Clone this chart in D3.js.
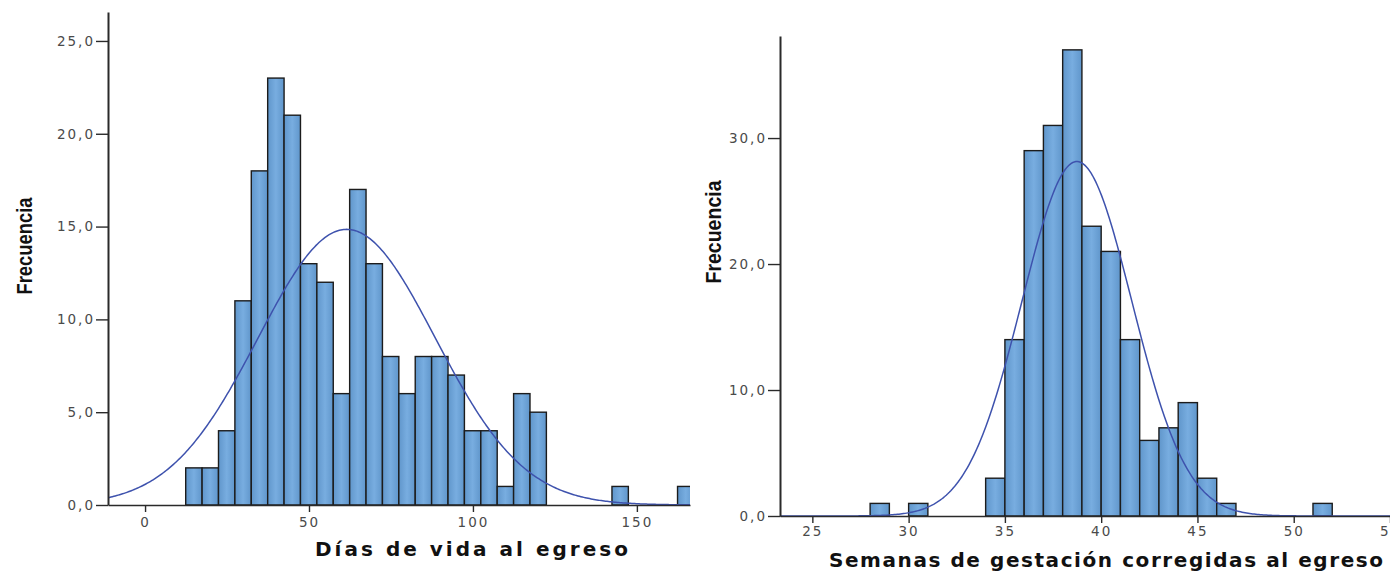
<!DOCTYPE html>
<html>
<head>
<meta charset="utf-8">
<script src="https://cdn.jsdelivr.net/npm/d3@7"></script>
<style>
  html, body { margin: 0; padding: 0; background: #fff; }
  svg { display: block; }
  .hist__axis text { font-family: "DejaVu Sans", Verdana, sans-serif; font-size: 13.5px; fill: #4a4a4a; letter-spacing: 2px; }
  .hist__axis path, .hist__axis line { stroke: #2a2a2a; }
  .hist__axis--y path { stroke-width: 2px; }
  .hist__axis--x path { stroke-width: 1.6px; }
  .hist__axis line { stroke-width: 1.4px; }
  .hist__bar { stroke: #1c1c1c; stroke-width: 1.4px; }
  .hist__curve { fill: none; stroke: #3e52ad; stroke-width: 1.5px; }
  .hist__title { font-family: "DejaVu Sans", Verdana, sans-serif; font-weight: bold; font-size: 20px; fill: #111; }
  .hist__ylabel { font-family: "Liberation Sans Narrow", "Arial Narrow", "Liberation Sans", sans-serif; font-weight: bold; font-size: 22px; fill: #111; }
</style>
</head>
<body>
<div id="chart"></div>
<script>
// Días de vida al egreso: bins of 5 days starting at 12.4
const diasBinStart = 12.4;
const diasBinWidth = 5;
const diasCounts = [2, 2, 4, 11, 18, 23, 21, 13, 12, 6, 17, 13, 8, 6, 8, 8, 7, 4, 4, 1, 6, 5, 0, 0, 0, 0, 1, 0, 0, 0, 1];
const diasMean = 61.5;
const diasSd = 27;
const diasYTicks = [0, 5, 10, 15, 20, 25];
const diasXTicks = [0, 50, 100, 150];

// Semanas de gestación corregidas al egreso: bins of 1 week starting at 28
const semBinStart = 28;
const semBinWidth = 1;
const semCounts = [1, 0, 1, 0, 0, 0, 3, 14, 29, 31, 37, 23, 21, 14, 6, 7, 9, 3, 1, 0, 0, 0, 0, 1];
const semMean = 38.74;
const semSd = 2.85;
const semYTicks = [0, 10, 20, 30];
const semXTicks = [25, 30, 35, 40, 45, 50, 55];

const fmtComma = d => d3.format('.1f')(d).replace('.', ',');

class Histogram {
  constructor(svg, options) {
    this.svg = svg;
    Object.assign(this, options);
    this.init();
  }

  init() {
    const { svg, left, right, top, bottom, xDomain, yDomain, id } = this;

    this.x = d3.scaleLinear().domain(xDomain).range([left, right]);
    this.y = d3.scaleLinear().domain(yDomain).range([bottom, top]);

    this.g = svg.append('g').attr('class', `hist hist--${id}`);

    svg.select('defs').append('clipPath')
      .attr('id', `clip-${id}`)
      .append('rect')
      .attr('x', left)
      .attr('y', 0)
      .attr('width', right - left)
      .attr('height', bottom + 1);

    this.plot = this.g.append('g').attr('clip-path', `url(#clip-${id})`);
  }

  render() {
    const { g, plot, x, y, counts, binStart, binWidth, mean, sd, xTicks, yTicks } = this;

    const bins = counts.map((c, i) => ({
      x0: binStart + i * binWidth,
      x1: binStart + (i + 1) * binWidth,
      count: c,
    })).filter(d => d.count > 0);

    plot.selectAll('.hist__bar')
      .data(bins)
      .join('rect')
      .attr('class', 'hist__bar')
      .attr('fill', 'url(#barFill)')
      .attr('x', d => x(d.x0))
      .attr('y', d => y(d.count))
      .attr('width', d => x(d.x1) - x(d.x0))
      .attr('height', d => y(0) - y(d.count));

    // fitted normal curve scaled to frequency
    const n = d3.sum(counts);
    const [lo, hi] = x.domain();
    const step = (hi - lo) / 400;
    const pts = d3.range(lo, hi + step, step).map(v => [
      v,
      n * binWidth / (sd * Math.sqrt(2 * Math.PI)) * Math.exp(-0.5 * ((v - mean) / sd) ** 2),
    ]);

    plot.append('path')
      .datum(pts)
      .attr('class', 'hist__curve')
      .attr('d', d3.line().x(d => x(d[0])).y(d => y(d[1])));

    g.append('g')
      .attr('class', 'hist__axis hist__axis--x')
      .attr('transform', `translate(0, ${y(0)})`)
      .call(d3.axisBottom(x)
        .tickValues(xTicks)
        .tickSize(7)
        .tickSizeOuter(0)
        .tickPadding(this.xPad)
        .tickFormat(d3.format('d')));

    g.append('g')
      .attr('class', 'hist__axis hist__axis--y')
      .attr('transform', `translate(${x.range()[0]}, 0)`)
      .call(d3.axisLeft(y)
        .tickValues(yTicks)
        .tickSize(12)
        .tickSizeOuter(0)
        .tickPadding(1)
        .tickFormat(fmtComma));

    g.append('text')
      .attr('class', 'hist__title')
      .attr('x', this.title.x)
      .attr('y', this.title.y)
      .attr('textLength', this.title.len)
      .attr('lengthAdjust', 'spacing')
      .text(this.title.text);

    g.append('text')
      .attr('class', 'hist__ylabel')
      .attr('transform', `translate(${this.ylabel.x}, ${this.ylabel.y}) rotate(-90)`)
      .attr('text-anchor', 'middle')
      .attr('textLength', this.ylabel.len)
      .attr('lengthAdjust', 'spacingAndGlyphs')
      .text('Frecuencia');
  }
}

const svg = d3.select('#chart')
  .append('svg')
  .attr('width', 1390)
  .attr('height', 573);

const grad = svg.append('defs')
  .append('linearGradient')
  .attr('id', 'barFill')
  .attr('x1', '0%').attr('x2', '100%')
  .attr('y1', '0%').attr('y2', '0%');
grad.append('stop').attr('offset', '0%').attr('stop-color', '#6096cb');
grad.append('stop').attr('offset', '50%').attr('stop-color', '#78ade0');
grad.append('stop').attr('offset', '100%').attr('stop-color', '#6096cb');

new Histogram(svg, {
  id: 'dias',
  left: 108, right: 690, top: 12, bottom: 505,
  xDomain: [-11.3, 166.2],
  yDomain: [0, 26.56],
  counts: diasCounts,
  binStart: diasBinStart,
  binWidth: diasBinWidth,
  mean: diasMean,
  sd: diasSd,
  xTicks: diasXTicks,
  yTicks: diasYTicks,
  xPad: 5,
  title: { text: 'Días de vida al egreso', x: 315, y: 556, len: 313 },
  ylabel: { x: 32, y: 246, len: 97 },
}).render();

new Histogram(svg, {
  id: 'sem',
  left: 780, right: 1390, top: 36, bottom: 516,
  xDomain: [23.32, 55.0],
  yDomain: [0, 38.1],
  counts: semCounts,
  binStart: semBinStart,
  binWidth: semBinWidth,
  mean: semMean,
  sd: semSd,
  xTicks: semXTicks,
  yTicks: semYTicks,
  xPad: 3,
  title: { text: 'Semanas de gestación corregidas al egreso', x: 829, y: 567, len: 554 },
  ylabel: { x: 721, y: 232, len: 103 },
}).render();
</script>
</body>
</html>
